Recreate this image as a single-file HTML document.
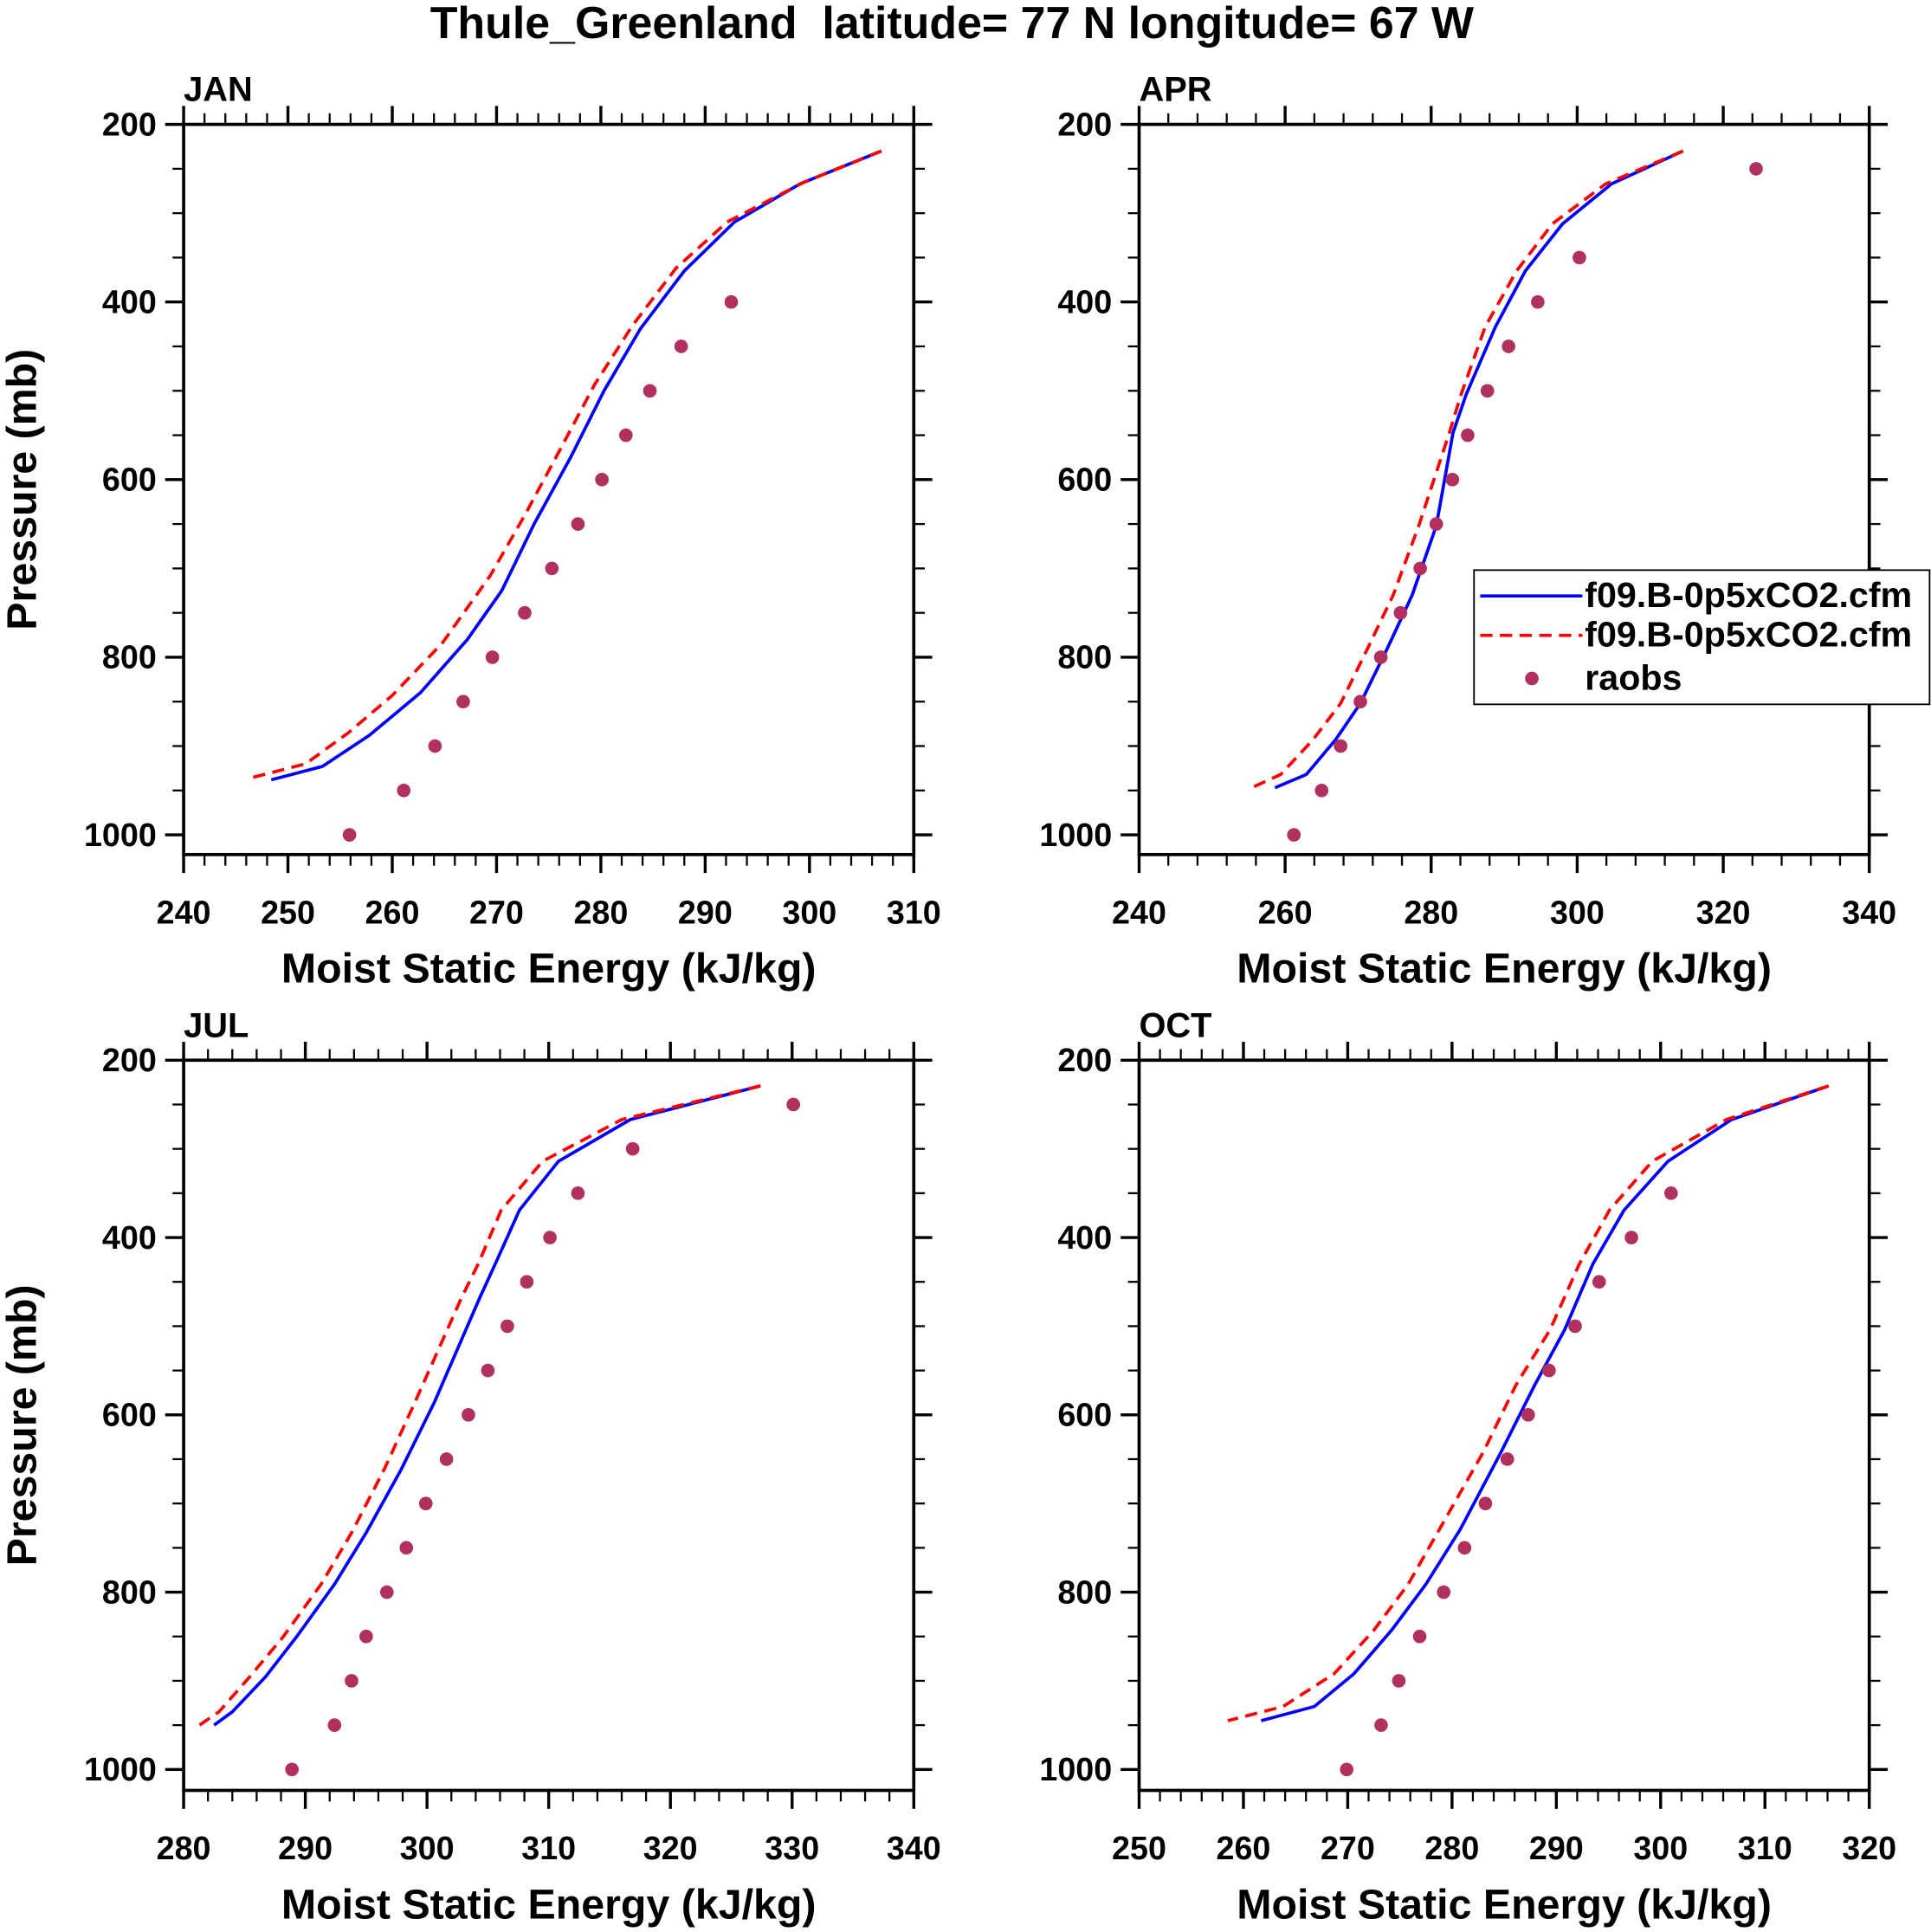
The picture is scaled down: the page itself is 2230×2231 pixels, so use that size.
<!DOCTYPE html>
<html><head><meta charset="utf-8"><style>
html,body{margin:0;padding:0;background:#fff}
svg{display:block}
text{font-family:"Liberation Sans",sans-serif;font-weight:bold;fill:#000;white-space:pre}
</style></head><body>
<svg id="chart" width="2230" height="2231" viewBox="0 0 1568 1569" xmlns="http://www.w3.org/2000/svg">
<rect width="1568" height="1569" fill="#fff"/>
<text x="773" y="31" font-size="36.5" text-anchor="middle" xml:space="preserve">Thule_Greenland  latitude= 77 N longitude= 67 W</text>
<g id="legend">
<rect x="1197" y="463" width="370" height="109" fill="#fff" stroke="#000" stroke-width="1.3"/>
<line x1="1202" y1="484" x2="1285" y2="484" stroke="#0000ff" stroke-width="2.6"/>
<text x="1287" y="493" font-size="29">f09.B-0p5xCO2.cfm</text>
<line x1="1202" y1="516" x2="1285" y2="516" stroke="#ff0000" stroke-width="2.6" stroke-dasharray="10,6"/>
<text x="1287" y="525" font-size="29">f09.B-0p5xCO2.cfm</text>
<circle cx="1244" cy="551" r="5.5" fill="#b03060"/>
<text x="1287" y="560" font-size="29">raobs</text>
</g>
</svg>
<script>
const janLevels=[230,267,310,365,430,500,575,650,725,780,840,888,923,938];
const janBlue=[306.9,299.1,292.8,288,283.8,280.3,277.1,273.6,270.5,267.2,262.7,257.8,253.3,248.4];
const janRedLevels=[230,265,310,362,427,493,566,638,708,784,843,885,920,936];
const janRed=[306.9,299.5,292.1,287.2,283,279.4,276.1,272.8,269.4,264.8,260,255.8,251.7,246.4];
const obsLevels=[250,300,350,400,450,500,550,600,650,700,750,800,850,900,950,1000];
const janObs=[null,null,null,292.5,287.7,284.7,282.4,280.1,277.8,275.3,272.7,269.6,266.8,264.1,261.1,255.9];

const aprLevels=[230,267,312,365,428,504,547,652,730,790,852,893,932,947];
const aprBlue=[314.5,304.7,298,292.9,288.8,284.8,283,280.7,277.4,274,270.3,266.9,262.9,258.6];
const aprRed=[314.5,303.9,296.6,291.7,287.4,284.1,282.5,278.3,274.8,271.3,267.6,263.8,259.4,255.4];
const aprObs=[324.5,null,300.3,294.6,290.6,287.7,285,282.9,280.7,278.5,275.8,273.1,270.3,267.6,265,261.2];

const julLevels=[229,267,314,369,430,469,586,661,733,791,850,896,935,950];
const julBlue=[327.4,316.7,310.8,307.6,305.6,304.3,300.6,297.9,295,292.4,289.3,286.7,284,282.5];
const julRed=[327.4,316,309.5,306.1,304.2,302.8,299,296.5,293.8,291.3,288.2,285.4,282.9,281.3];
const julObs=[330.1,316.9,312.4,310.1,308.2,306.6,305,303.4,301.6,299.9,298.3,296.7,295,293.8,292.4,288.9];

const octLevels=[229,267,314,369,430,504,567,642,729,791,843,892,929,945];
const octBlue=[316.1,306.8,300.7,296.5,293.5,290.8,287.9,284.7,280.8,277.5,274.2,270.6,266.8,261.7];
const octRed=[316.1,306.3,299.2,295.1,292.2,289.4,286.1,283,278.8,275.8,272.5,268.7,263.8,258.5];
const octObs=[null,null,301,297.2,294.1,291.8,289.3,287.3,285.3,283.2,281.2,279.2,276.9,274.9,273.2,269.9];

const xTicksJan=[240,250,260,270,280,290,300,310];
const xTicksApr=[240,260,280,300,320,340];
const xTicksJul=[280,290,300,310,320,330,340];
const xTicksOct=[250,260,270,280,290,300,310,320];
const yTicks=[200,400,600,800,1000];

const NS='http://www.w3.org/2000/svg';
const svg=document.getElementById('chart');
const legend=document.getElementById('legend');
function mk(tag,attrs,parent){const e=document.createElementNS(NS,tag);for(const k in attrs)e.setAttribute(k,attrs[k]);if(parent)parent.appendChild(e);else svg.insertBefore(e,legend);return e;}

function panel(cfg){
  const L=cfg.x0,R=cfg.x0+593,T=cfg.y0,B=cfg.y0+593;
  const pyScale=(cfg.y1000-T)/800;
  const sx=v=>L+(v-cfg.xmin)/(cfg.xmax-cfg.xmin)*(R-L);
  const sy=p=>T+(p-200)*pyScale;
  const g=document.createElementNS(NS,'g');svg.insertBefore(g,legend);
  
  
  for(let v=cfg.xmin;v<=cfg.xmax+1e-6;v+=cfg.minor){
    const major=cfg.ticks.some(t=>Math.abs(t-v)<1e-6);const len=major?15:9;
    mk('line',{x1:sx(v),y1:B,x2:sx(v),y2:B+len,stroke:'#000','stroke-width':major?2.4:1.6},g);
    mk('line',{x1:sx(v),y1:T,x2:sx(v),y2:T-len,stroke:'#000','stroke-width':major?2.4:1.6},g);
  }
  cfg.ticks.forEach(t=>{const tx=mk('text',{x:sx(t),y:B+56,'font-size':26.5,'text-anchor':'middle'},g);tx.textContent=t;
    
    });
  for(let p=200;p<=1000;p+=50){
    const major=yTicks.includes(p);const len=major?15:9;
    mk('line',{x1:L,y1:sy(p),x2:L-len,y2:sy(p),stroke:'#000','stroke-width':major?2.4:1.6},g);
    mk('line',{x1:R,y1:sy(p),x2:R+len,y2:sy(p),stroke:'#000','stroke-width':major?2.4:1.6},g);
  }
  yTicks.forEach(p=>{const tx=mk('text',{x:L-22,y:sy(p)+9,'font-size':26.5,'text-anchor':'end'},g);tx.textContent=p;
    
    });
  mk('rect',{x:L,y:T,width:R-L,height:B-T,fill:'none',stroke:'#000','stroke-width':2.6},g);
  const lbl=mk('text',{x:L,y:T-19,'font-size':28},g);lbl.textContent=cfg.label;
  
  
  const xt=mk('text',{x:(L+R)/2,y:B+104,'font-size':34,'text-anchor':'middle'},g);xt.textContent='Moist Static Energy (kJ/kg)';
  
  
  if(cfg.ylab){const yt=mk('text',{x:0,y:0,'font-size':34,'text-anchor':'middle',transform:`translate(${L-120},${(T+B)/2}) rotate(-90)`},g);yt.textContent='Pressure (mb)';
    
    }
  const pb=mk('polyline',{points:cfg.blue.map((v,i)=>sx(v)+','+sy(cfg.levels[i])).join(' '),fill:'none',stroke:'#0000ff','stroke-width':2.6},g);
  
  
  const pr=mk('polyline',{points:cfg.red.map((v,i)=>sx(v)+','+sy(cfg.redLevels[i])).join(' '),fill:'none',stroke:'#ff0000','stroke-width':2.6,'stroke-dasharray':'10,6'},g);
  
  
  cfg.obs.forEach((v,i)=>{if(v==null)return;const c=mk('circle',{cx:sx(v),cy:sy(obsLevels[i]),r:5.5,fill:'#b03060'},g);
    
    });
}
panel({name:'jan',label:'JAN',x0:149,y0:101,y1000:678,xmin:240,xmax:310,minor:2,ticks:xTicksJan,levels:janLevels,blue:janBlue,redLevels:janRedLevels,red:janRed,obs:janObs,ylab:true});
panel({name:'apr',label:'APR',x0:925,y0:101,y1000:678,xmin:240,xmax:340,minor:4,ticks:xTicksApr,levels:aprLevels,blue:aprBlue,redLevels:aprLevels,red:aprRed,obs:aprObs,ylab:false});
panel({name:'jul',label:'JUL',x0:149,y0:861,y1000:1437,xmin:280,xmax:340,minor:2,ticks:xTicksJul,levels:julLevels,blue:julBlue,redLevels:julLevels,red:julRed,obs:julObs,ylab:true});
panel({name:'oct',label:'OCT',x0:925,y0:861,y1000:1437,xmin:250,xmax:320,minor:2,ticks:xTicksOct,levels:octLevels,blue:octBlue,redLevels:octLevels,red:octRed,obs:octObs,ylab:false});
</script>
</body></html>
